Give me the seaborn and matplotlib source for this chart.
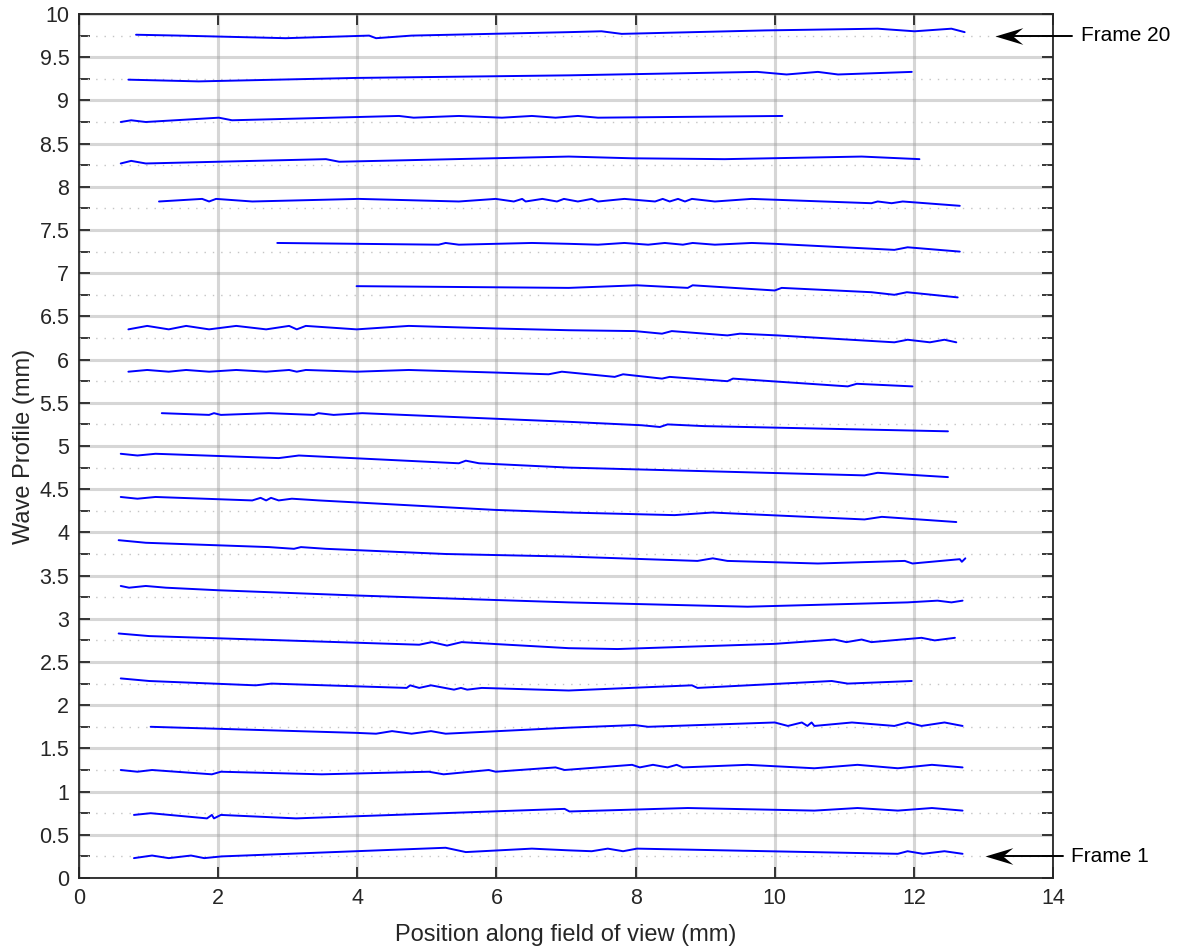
import matplotlib
matplotlib.use("Agg")
import matplotlib.pyplot as plt
from matplotlib.ticker import MultipleLocator, FuncFormatter
from matplotlib.path import Path
import numpy as np
import pandas as pd
import seaborn as sns

# wave profile of each frame (mm)
f01_x = [0.79, 1.05, 1.29, 1.61, 1.80, 2.05, 5.27, 5.56, 6.51, 7.04, 7.37, 7.60, 7.82, 8.02, 11.77, 11.91, 12.13, 12.44, 12.70]
f01_y = [0.23, 0.26, 0.23, 0.26, 0.23, 0.25, 0.35, 0.30, 0.34, 0.32, 0.31, 0.34, 0.31, 0.34, 0.28, 0.31, 0.28, 0.31, 0.28]

f02_x = [0.79, 1.03, 1.84, 1.91, 1.94, 2.04, 3.12, 6.98, 7.05, 8.75, 10.57, 11.19, 11.77, 12.26, 12.70]
f02_y = [0.73, 0.75, 0.69, 0.73, 0.69, 0.73, 0.69, 0.80, 0.77, 0.81, 0.78, 0.81, 0.78, 0.81, 0.78]

f03_x = [0.60, 0.84, 1.05, 1.91, 2.04, 3.49, 5.03, 5.24, 5.89, 5.99, 6.85, 6.98, 7.95, 8.06, 8.25, 8.46, 8.59, 8.68,
         9.61, 10.57, 11.19, 11.77, 12.26, 12.70]
f03_y = [1.25, 1.23, 1.25, 1.20, 1.23, 1.20, 1.23, 1.20, 1.25, 1.23, 1.28, 1.25, 1.31, 1.28, 1.31, 1.28, 1.31, 1.28,
         1.31, 1.27, 1.31, 1.27, 1.31, 1.28]

f04_x = [1.03, 3.98, 4.27, 4.50, 4.78, 5.06, 5.27, 7.04, 7.99, 8.18, 10.00, 10.19, 10.39, 10.47, 10.53, 10.57, 11.11,
         11.72, 11.91, 12.11, 12.44, 12.70]
f04_y = [1.75, 1.68, 1.67, 1.70, 1.67, 1.70, 1.67, 1.74, 1.77, 1.75, 1.80, 1.76, 1.80, 1.76, 1.80, 1.76, 1.80,
         1.76, 1.80, 1.76, 1.80, 1.76]

f05_x = [0.60, 1.01, 2.54, 2.77, 4.71, 4.76, 4.89, 5.06, 5.39, 5.49, 5.58, 5.79, 7.04, 8.81, 8.89, 10.82, 11.05, 11.97]
f05_y = [2.31, 2.28, 2.23, 2.25, 2.20, 2.23, 2.20, 2.23, 2.18, 2.20, 2.18, 2.20, 2.17, 2.23, 2.20, 2.28, 2.25, 2.28]

f06_x = [0.57, 1.01, 4.89, 5.07, 5.29, 5.50, 7.04, 7.74, 10.00, 10.86, 11.03, 11.25, 11.39, 12.11, 12.30, 12.59]
f06_y = [2.83, 2.80, 2.70, 2.73, 2.69, 2.73, 2.66, 2.65, 2.71, 2.76, 2.73, 2.76, 2.73, 2.78, 2.75, 2.78]

f07_x = [0.60, 0.72, 0.96, 1.25, 2.01, 3.98, 7.04, 9.61, 11.91, 12.34, 12.54, 12.70]
f07_y = [3.38, 3.36, 3.38, 3.36, 3.33, 3.27, 3.19, 3.14, 3.19, 3.21, 3.19, 3.21]

f08_x = [0.57, 0.96, 2.73, 3.09, 3.19, 3.55, 5.27, 7.04, 8.89, 9.11, 9.32, 10.62, 11.87, 11.98, 12.66, 12.69, 12.74]
f08_y = [3.91, 3.88, 3.83, 3.81, 3.83, 3.81, 3.75, 3.72, 3.67, 3.70, 3.67, 3.64, 3.67, 3.64, 3.69, 3.66, 3.70]

f09_x = [0.60, 0.84, 1.10, 2.49, 2.61, 2.69, 2.76, 2.87, 3.06, 3.45, 5.99, 7.04, 8.56, 9.10, 11.29, 11.54, 12.61]
f09_y = [4.41, 4.39, 4.41, 4.37, 4.40, 4.37, 4.40, 4.37, 4.39, 4.37, 4.26, 4.23, 4.20, 4.23, 4.15, 4.18, 4.12]

f10_x = [0.60, 0.84, 1.10, 2.87, 3.16, 5.46, 5.56, 5.75, 7.04, 11.29, 11.48, 12.49]
f10_y = [4.91, 4.89, 4.91, 4.86, 4.89, 4.80, 4.83, 4.80, 4.75, 4.66, 4.69, 4.64]

f11_x = [1.19, 1.87, 1.94, 2.04, 2.73, 3.38, 3.44, 3.66, 4.07, 7.04, 8.09, 8.35, 8.46, 8.99, 12.49]
f11_y = [5.38, 5.36, 5.38, 5.36, 5.38, 5.36, 5.38, 5.36, 5.38, 5.28, 5.24, 5.22, 5.25, 5.23, 5.17]

f12_x = [0.71, 0.98, 1.29, 1.54, 1.87, 2.26, 2.69, 3.02, 3.13, 3.26, 3.99, 4.74, 5.99, 6.75, 6.94, 7.70, 7.82, 8.38,
         8.49, 9.32, 9.40, 11.05, 11.18, 11.98]
f12_y = [5.86, 5.88, 5.86, 5.88, 5.86, 5.88, 5.86, 5.88, 5.86, 5.88, 5.86, 5.88, 5.85, 5.83, 5.86, 5.80, 5.83, 5.78,
         5.80, 5.75, 5.78, 5.69, 5.72, 5.69]

f13_x = [0.71, 0.98, 1.29, 1.54, 1.87, 2.26, 2.69, 3.02, 3.13, 3.26, 3.99, 4.74, 5.99, 7.04, 7.99, 8.38, 8.52, 9.32,
         9.50, 10.04, 11.72, 11.91, 12.23, 12.44, 12.61]
f13_y = [6.35, 6.39, 6.35, 6.39, 6.35, 6.39, 6.35, 6.39, 6.35, 6.39, 6.35, 6.39, 6.36, 6.34, 6.33, 6.30, 6.33, 6.28,
         6.30, 6.28, 6.20, 6.23, 6.20, 6.23, 6.20]

f14_x = [3.99, 7.04, 8.02, 8.75, 8.82, 10.00, 10.10, 11.39, 11.72, 11.90, 12.63]
f14_y = [6.85, 6.83, 6.86, 6.83, 6.86, 6.80, 6.83, 6.78, 6.75, 6.78, 6.72]

f15_x = [2.85, 5.17, 5.27, 5.46, 6.51, 7.04, 7.46, 7.84, 8.18, 8.42, 8.68, 8.82, 9.14, 9.67, 10.00, 11.48, 11.72,
         11.91, 12.66]
f15_y = [7.35, 7.33, 7.35, 7.33, 7.35, 7.34, 7.33, 7.35, 7.33, 7.35, 7.33, 7.35, 7.33, 7.35, 7.34, 7.28, 7.27,
         7.30, 7.25]

f16_x = [1.15, 1.77, 1.87, 1.97, 2.49, 4.02, 5.46, 5.99, 6.25, 6.37, 6.42, 6.66, 6.87, 6.97, 7.17, 7.37, 7.46, 7.84,
         8.28, 8.39, 8.49, 8.61, 8.71, 8.81, 9.14, 9.67, 11.39, 11.48, 11.68, 11.84, 12.66]
f16_y = [7.83, 7.86, 7.83, 7.86, 7.83, 7.86, 7.83, 7.86, 7.83, 7.86, 7.83, 7.86, 7.83, 7.86, 7.83, 7.86, 7.83, 7.86,
         7.83, 7.86, 7.83, 7.86, 7.83, 7.86, 7.83, 7.86, 7.81, 7.83, 7.81, 7.83, 7.78]

f17_x = [0.60, 0.75, 0.96, 3.55, 3.74, 7.04, 7.95, 9.28, 11.25, 12.08]
f17_y = [8.27, 8.30, 8.27, 8.32, 8.29, 8.35, 8.33, 8.32, 8.35, 8.32]

f18_x = [0.60, 0.75, 0.96, 2.01, 2.20, 4.60, 4.81, 5.46, 6.08, 6.51, 6.85, 7.17, 7.46, 10.11]
f18_y = [8.75, 8.77, 8.75, 8.80, 8.77, 8.82, 8.80, 8.82, 8.80, 8.82, 8.80, 8.82, 8.80, 8.82]

f19_x = [0.71, 1.72, 3.98, 7.04, 9.75, 10.17, 10.62, 10.91, 11.97]
f19_y = [9.24, 9.22, 9.26, 9.29, 9.33, 9.30, 9.33, 9.30, 9.33]

f20_x = [0.82, 1.44, 2.97, 4.17, 4.27, 4.78, 7.04, 7.51, 7.80, 9.86, 11.48, 12.01, 12.54, 12.73]
f20_y = [9.76, 9.75, 9.72, 9.75, 9.72, 9.75, 9.79, 9.80, 9.77, 9.81, 9.83, 9.80, 9.83, 9.79]

frames_x = [f01_x, f02_x, f03_x, f04_x, f05_x, f06_x, f07_x, f08_x, f09_x, f10_x,
            f11_x, f12_x, f13_x, f14_x, f15_x, f16_x, f17_x, f18_x, f19_x, f20_x]
frames_y = [f01_y, f02_y, f03_y, f04_y, f05_y, f06_y, f07_y, f08_y, f09_y, f10_y,
            f11_y, f12_y, f13_y, f14_y, f15_y, f16_y, f17_y, f18_y, f19_y, f20_y]

# rest level of each frame: 0.25 mm + 0.5 mm per frame
frame_offset = [0.25 + 0.5 * i for i in range(20)]

rows = []
for n, (xs, ys) in enumerate(zip(frames_x, frames_y), start=1):
    for xv, yv in zip(xs, ys):
        rows.append((n, xv, yv))
df = pd.DataFrame(rows, columns=["frame", "pos", "wave"])

sns.set_style("ticks")
plt.rcParams['font.family'] = ['Liberation Sans', 'DejaVu Sans']

dark = '#262626'
fig = plt.figure(figsize=(11.85, 9.52), dpi=100)
ax = fig.add_axes([79 / 1185, 74 / 952, 974 / 1185, 864 / 952])

# dotted rest lines
for b in frame_offset:
    ax.axhline(b, color='#c4c4c4', lw=1.0, ls=(0, (1, 5)), zorder=1)

sns.lineplot(data=df, x="pos", y="wave", units="frame", estimator=None, sort=False,
             color='#0000ff', lw=1.4, ax=ax, zorder=3)

ax.set_xlim(0, 14)
ax.set_ylim(0, 10)
ax.xaxis.set_major_locator(MultipleLocator(2))
ax.yaxis.set_major_locator(MultipleLocator(0.5))
ax.yaxis.set_minor_locator(MultipleLocator(0.25))
ax.yaxis.set_major_formatter(FuncFormatter(lambda v, _: f"{v:g}"))
ax.grid(True, which='major', color='#9a9a9a', alpha=0.4, lw=2.2, zorder=0)
ax.set_axisbelow(True)

ax.tick_params(which='both', direction='in', length=8, width=1.3, top=True, right=True,
               colors=dark, labelsize=15.5, pad=7)
for sp in ax.spines.values():
    sp.set_color(dark)
    sp.set_linewidth(1.3)

ax.set_xlabel("Position along field of view (mm)", fontsize=17, color=dark, labelpad=11)
ax.set_ylabel("Wave Profile (mm)", fontsize=17, color=dark, labelpad=3)

# frame markers on the right: concave arrow head pointing left + shaft
head = Path([(0, 0), (1, 0.3), (0.64, 0), (1, -0.3), (0, 0)],
            [Path.MOVETO, Path.LINETO, Path.LINETO, Path.LINETO, Path.CLOSEPOLY])


def frame_arrow(tip, tail, y, label):
    ax.plot([tip + 0.2, tail], [y, y], color='black', lw=1.4, clip_on=False, zorder=5)
    ax.plot([tip], [y], marker=head, markersize=40, color='black', mew=0,
            clip_on=False, zorder=6)
    ax.text(tail + 0.12, y, label, va='center', ha='left', fontsize=15,
            color='black', clip_on=False)


frame_arrow(13.16, 14.28, frame_offset[-1], "Frame 20")
frame_arrow(13.02, 14.14, frame_offset[0], "Frame 1")

fig.savefig("out.png", dpi=100)
